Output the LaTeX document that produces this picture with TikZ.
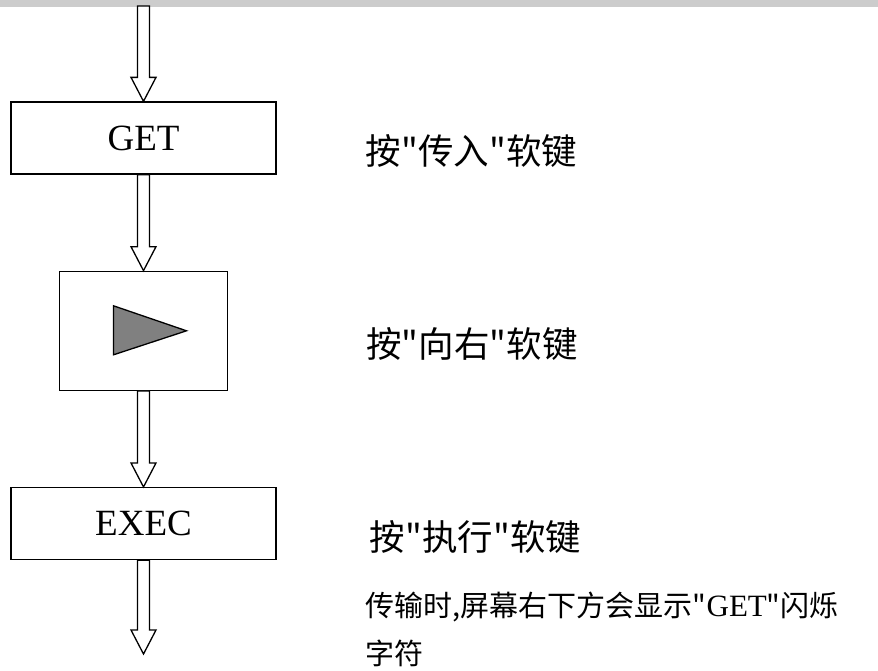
\documentclass[tikz,border=0pt]{standalone}
\usepackage{fontspec}
\setmainfont{Liberation Serif}
\newfontfamily\cjk{Noto Sans CJK SC}
\usetikzlibrary{positioning,calc}
\definecolor{barGray}{HTML}{CCCCCC}
\definecolor{triGray}{HTML}{808080}

\begin{document}
\begin{tikzpicture}[x=1pt, y=-1pt, node distance=96pt]
\tikzstyle{box}=[draw, line width=1.3pt, minimum width=265pt, minimum height=72pt, inner sep=0pt, font=\fontsize{37}{40}\selectfont]
\tikzstyle{key}=[inner sep=0pt, font=\cjk\fontsize{35.5}{40}\selectfont]
\tikzstyle{fat}=[draw, fill=white, line width=1.3pt, to path={($(\tikztostart)+(-6,0)$) -- ($(\tikztotarget)+(-6,-24)$) -- ($(\tikztotarget)+(-12.5,-24)$) -- (\tikztotarget) -- ($(\tikztotarget)+(12.5,-24)$) -- ($(\tikztotarget)+(6,-24)$) -- ($(\tikztostart)+(6,0)$) -- cycle}]
\useasboundingbox (0,0) rectangle (878,670);
\fill[barGray] (0,0) rectangle (878,7);
% the three keys
\node[box] (get) at (143.5,138) {GET};
\node[box, below=of get, minimum width=168pt, minimum height=119pt] (right) {};
\node[box, below=of right] (exec) {EXEC};
\draw[line width=1.3pt, fill=triGray] ($(right)+(-30,-25)$) -- ($(right)+(-30,24)$) -- ($(right)+(43,0)$) -- cycle;
\coordinate (in) at (143.5,6);
\coordinate (out) at (143.5,654);
\draw[fat] (in) to (get.north);
\draw[fat] (get.south) to (right.north);
\draw[fat] (right.south) to (exec.north);
\draw[fat] (exec.south) to (out);
% what to press
\node[key, right=89pt of get, yshift=-13pt] (key1) {按"传入"软键};
\node[key, right=138pt of right, yshift=-13pt] (key2) {按"向右"软键};
\node[key, right=93pt of exec, yshift=-13pt] (key3) {按"执行"软键};
\node[inner sep=0pt, align=left, anchor=north west, font=\cjk\fontsize{29}{48}\selectfont] (note) at ($(key3.south west)+(-4,38)$) {传输时,屏幕右下方会显示"{\rmfamily\fontsize{31}{48}\selectfont GET}"闪烁\\字符};
\end{tikzpicture}
\end{document}
